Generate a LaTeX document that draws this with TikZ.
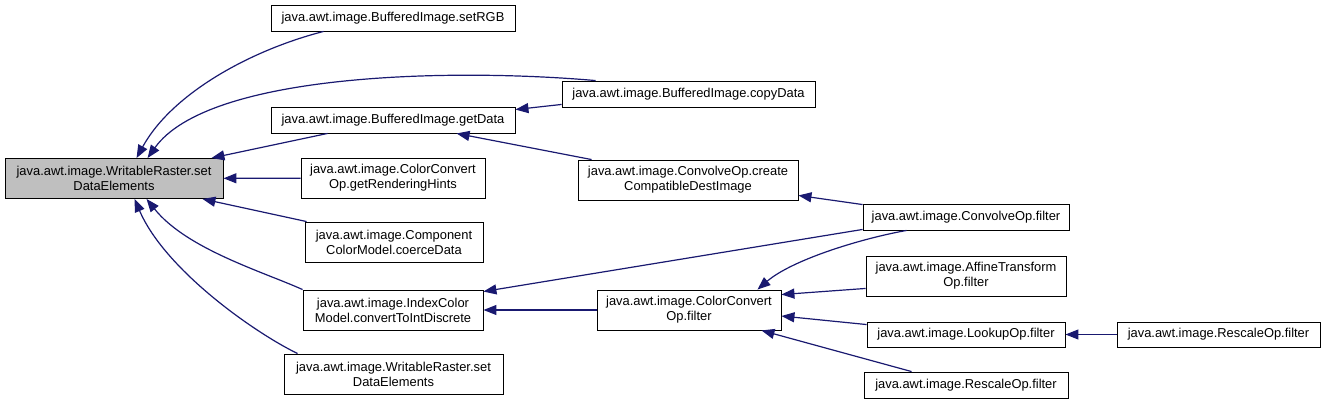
\documentclass[tikz,border=0pt]{standalone}
\usepackage{fontspec}
\setmainfont{Liberation Sans}
\usepackage{xcolor}
\usepackage{tikz}
\usetikzlibrary{arrows.meta, calc}
\definecolor{dxEdge}{HTML}{191970}
\definecolor{dxRoot}{HTML}{BFBFBF}
\tikzset{
  fnbox/.style={
    rectangle, draw=black, line width=0.9pt,
    fill=white, inner sep=0pt,
    minimum width=#1, minimum height=26pt,
    align=center,
    font=\fontsize{12.9}{15}\selectfont
  },
  twoline/.style={minimum height=40pt},
  callarrow/.style={
    -{Triangle[length=13pt, width=10pt]},
    dxEdge, line width=1.2pt
  }
}

\begin{document}
\begin{tikzpicture}[x=1pt, y=-1pt]
  \useasboundingbox (0,0) rectangle (1325,404);
  % callee
  \node[fnbox=218pt, twoline, fill=dxRoot] (root) at (114,178.5) {java.awt.image.WritableRaster.set\\DataElements};
  % first column of callers
  \node[fnbox=244pt] (setRGB) at (393,18) {java.awt.image.BufferedImage.setRGB};
  \node[fnbox=244pt] (getData) at (393,120) {java.awt.image.BufferedImage.getData};
  \node[fnbox=184pt, twoline] (hints) at (393,178) {java.awt.image.ColorConvert\\Op.getRenderingHints};
  \node[fnbox=178pt, twoline] (coerce) at (394,242) {java.awt.image.Component\\ColorModel.coerceData};
  \node[fnbox=180pt, twoline] (index) at (393,310) {java.awt.image.IndexColor\\Model.convertToIntDiscrete};
  \node[fnbox=219pt, twoline] (wrset) at (393.5,374) {java.awt.image.WritableRaster.set\\DataElements};
  % second column
  \node[fnbox=253pt] (copyData) at (688.5,94) {java.awt.image.BufferedImage.copyData};
  \node[fnbox=220pt, twoline] (compat) at (688,180) {java.awt.image.ConvolveOp.create\\CompatibleDestImage};
  \node[fnbox=184pt, twoline] (ccfilter) at (689,310) {java.awt.image.ColorConvert\\Op.filter};
  % third column
  \node[fnbox=206pt] (convfilter) at (966,217) {java.awt.image.ConvolveOp.filter};
  \node[fnbox=200pt, twoline] (affine) at (966,276) {java.awt.image.AffineTransform\\Op.filter};
  \node[fnbox=198pt, minimum height=25pt] (lookup) at (966,334.5) {java.awt.image.LookupOp.filter};
  \node[fnbox=204pt] (rescaleL) at (966,385) {java.awt.image.RescaleOp.filter};
  \node[fnbox=203pt, minimum height=25pt] (rescaleR) at (1218.5,334.5) {java.awt.image.RescaleOp.filter};

  % calls into the root
  \draw[callarrow] ($(setRGB.south west)+(53,0)$) .. controls +(-74,19) and +(35,-64) .. ($(root.north west)+(132,0)$);
  \draw[callarrow] ($(copyData.north west)+(34,0)$) .. controls +(-150,-13) and +(60,-84) .. ($(root.north west)+(143,0)$);
  \draw[callarrow] ($(getData.south west)+(57,0)$) -- ($(root.north east)+(-12,0)$);
  \draw[callarrow] (hints) -- (root);
  \draw[callarrow] ($(coerce.north west)+(2,0)$) -- ($(root.south east)+(-21,0)$);
  \draw[callarrow] (index.north west) .. controls +(-40,-18) and +(40,50) .. ($(root.south west)+(142,0)$);
  \draw[callarrow] ($(wrset.north west)+(14,0)$) .. controls +(-45,-22) and +(30,70) .. ($(root.south west)+(130,0)$);
  % the rest
  \draw[callarrow] ($(copyData.south west)+(0,-3)$) -- ($(getData.north east)+(0,3)$);
  \draw[callarrow] ($(compat.north west)+(14,0)$) -- ($(getData.south west)+(186,0)$);
  \draw[callarrow] ($(convfilter.north west)+(0,1)$) -- ($(compat.south east)+(0,-5)$);
  \draw[callarrow] ($(convfilter.south west)+(0,-1)$) -- ($(index.north east)+(0,2)$);
  \draw[callarrow] ($(convfilter.south west)+(44,0)$) .. controls +(-45,8) and +(35,-30) .. ($(ccfilter.north east)+(-24,0)$);
  \draw[callarrow] (ccfilter) -- (index);
  \draw[callarrow] ($(affine.south west)+(0,-8)$) -- ($(ccfilter.north east)+(0,5)$);
  \draw[callarrow] ($(lookup.north west)+(0,3)$) -- ($(ccfilter.east)+(0,6)$);
  \draw[callarrow] ($(rescaleL.north west)+(48,0)$) -- ($(ccfilter.south east)+(-20,0)$);
  \draw[callarrow] (rescaleR) -- (lookup);
\end{tikzpicture}
\end{document}
